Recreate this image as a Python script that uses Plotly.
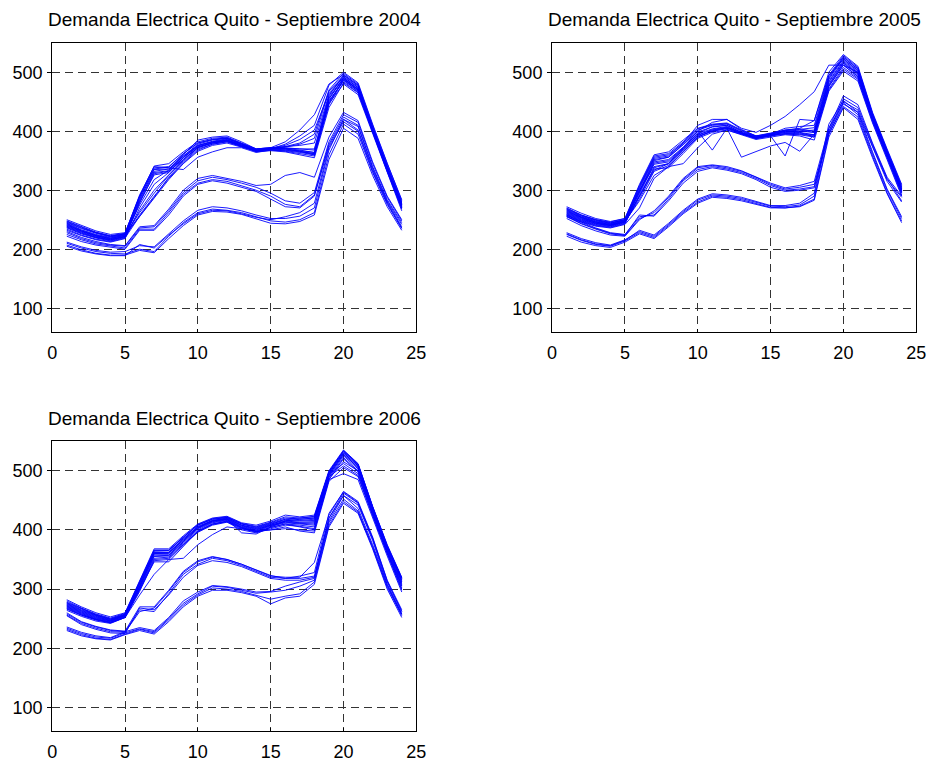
import plotly.graph_objects as go

hours = list(range(1, 25))

titles = ["Demanda Electrica Quito - Septiembre 2004",
          "Demanda Electrica Quito - Septiembre 2005",
          "Demanda Electrica Quito - Septiembre 2006"]

x_ticks = [0, 5, 10, 15, 20, 25]
y_ticks = [100, 200, 300, 400, 500]

# ---- Septiembre 2004 ----
wd_2004 = [
    [250,240,231,225,228,290,341,345,365,382,388,390,380,370,372,372,370,368,460,495,478,405,340,280],
    [246,236,228,222,226,288,338,340,362,380,386,388,378,368,370,370,366,362,455,490,472,402,338,276],
    [240,230,222,217,222,284,335,336,358,376,382,386,377,366,368,367,364,360,448,488,470,400,335,274],
    [236,226,219,214,220,278,328,332,352,372,380,384,375,365,367,365,360,355,440,482,465,398,332,270],
    [244,233,225,220,225,262,295,325,350,372,380,384,376,368,370,374,380,395,470,498,480,410,345,284],
    [238,228,220,216,222,258,290,320,346,368,378,382,374,366,370,378,392,410,478,500,482,412,346,282],
    [242,231,223,218,224,255,285,318,345,366,376,380,373,366,372,382,402,428,480,496,478,408,342,278],
    [234,224,217,213,219,256,288,322,348,370,378,382,374,367,371,376,386,402,465,492,474,405,338,275],
    [248,238,229,223,227,292,340,338,335,356,365,372,372,364,368,366,362,358,445,487,468,400,336,272],
    [245,235,227,221,225,286,332,336,360,385,390,392,382,370,372,371,368,364,452,484,466,398,332,268],
    [239,229,221,216,221,280,326,330,355,374,380,383,375,366,369,368,365,362,447,480,462,396,330,265],
    [232,223,216,212,218,270,310,330,355,375,382,385,376,367,370,371,370,370,458,490,470,402,335,270],
    [243,232,224,219,224,275,318,334,358,378,385,388,379,370,372,374,376,380,462,492,474,404,338,275],
    [237,227,220,215,221,265,300,326,352,373,381,385,377,368,371,373,378,388,468,494,476,406,340,278],
    [241,231,223,218,223,282,330,333,356,376,383,387,378,368,370,369,367,364,450,486,468,400,334,270],
    [247,237,228,222,226,290,336,339,362,380,386,389,379,369,371,370,366,360,455,489,471,402,336,273],
]
sat_2004 = [
    [228,218,211,207,205,236,238,265,296,316,322,318,312,305,295,282,278,296,382,428,415,345,288,248],
    [225,216,209,205,202,234,234,262,293,312,318,315,308,300,290,276,272,292,378,424,410,340,284,245],
    [222,213,207,203,200,232,232,258,290,310,316,312,305,298,285,272,270,290,375,420,408,338,282,242],
    [230,220,213,208,206,238,240,268,300,320,325,320,315,308,310,325,330,322,390,432,418,348,290,250],
]
sun_2004 = [
    [210,202,196,193,192,200,196,222,245,262,268,266,262,255,248,246,250,262,360,412,395,330,276,235],
    [207,199,193,190,190,198,194,218,240,258,264,263,259,252,244,243,247,258,352,405,388,325,272,232],
    [212,204,198,195,196,206,204,226,248,266,272,270,265,258,252,252,256,270,368,420,402,335,280,238],
    [205,197,192,189,189,208,202,224,243,260,266,265,260,254,250,255,262,278,372,416,400,332,278,236],
]

# ---- Septiembre 2005 ----
wd_2005 = [
    [272,261,252,247,252,310,360,365,385,405,412,414,402,392,397,402,404,400,490,525,505,428,366,305],
    [268,257,249,244,250,306,356,360,380,402,410,412,400,390,395,400,400,398,485,520,500,425,364,302],
    [264,254,246,242,248,302,352,356,377,399,407,410,398,389,394,398,398,394,480,516,497,422,360,300],
    [260,250,243,240,246,298,348,352,373,396,404,408,397,388,393,396,395,392,476,512,493,420,358,297],
    [257,247,240,237,243,294,344,348,370,394,402,406,396,387,392,395,394,390,472,508,490,418,356,295],
    [266,255,247,243,249,290,338,345,368,392,400,405,396,389,395,405,408,410,495,528,508,430,368,308],
    [262,252,244,240,246,285,332,342,365,390,400,404,395,388,394,402,405,418,500,530,510,432,370,310],
    [255,246,239,236,242,270,320,340,345,372,395,402,395,388,392,400,398,390,470,505,488,416,355,292],
    [270,258,250,245,250,300,340,345,372,400,368,405,356,366,375,381,366,395,478,515,495,422,360,298],
    [265,254,246,242,248,300,350,356,378,400,415,420,405,398,410,425,445,467,512,512,500,425,362,300],
    [261,251,244,241,247,296,346,350,372,396,408,410,398,392,392,358,420,418,495,522,502,426,364,302],
    [259,249,242,239,245,290,336,338,362,388,398,402,394,386,390,394,392,385,468,502,485,414,352,290],
    [267,256,248,244,250,304,354,358,380,410,420,420,403,392,396,400,402,398,488,523,503,427,365,303],
    [263,253,245,241,247,282,325,340,366,390,401,406,397,390,394,398,400,402,483,518,498,424,362,300],
    [258,248,241,238,244,288,334,345,369,393,403,407,397,389,393,396,396,394,476,512,492,419,357,296],
    [269,258,250,246,252,308,358,362,382,404,411,413,401,391,396,401,403,406,492,526,506,429,367,306],
]
sat_2005 = [
    [258,246,236,228,225,255,258,285,316,335,340,336,330,320,308,300,302,306,400,455,440,378,320,282],
    [255,243,234,226,223,252,262,288,318,338,342,338,332,322,310,302,305,310,398,450,436,375,318,288],
    [252,240,231,224,222,250,265,290,320,340,343,340,333,323,312,304,308,315,405,460,445,380,322,290],
    [256,244,235,227,224,258,256,282,312,332,338,334,328,318,305,298,300,304,395,446,432,372,315,280],
]
sun_2005 = [
    [228,218,211,207,216,230,222,242,264,283,292,290,286,280,273,272,275,290,405,448,428,362,300,252],
    [225,215,208,205,214,228,220,240,262,280,290,288,284,278,271,270,273,285,395,442,424,358,296,248],
    [222,212,206,203,212,226,218,238,260,278,288,286,282,276,270,270,272,283,390,440,420,355,294,245],
    [226,216,209,206,215,232,224,244,266,285,294,292,288,281,274,274,278,295,412,452,432,365,302,255],
]

# ---- Septiembre 2006 ----
wd_2006 = [
    [282,270,260,253,260,315,368,368,390,410,420,423,412,408,415,425,422,425,500,535,512,440,375,320],
    [278,267,257,250,258,312,365,365,387,408,418,421,410,405,412,420,418,420,497,532,510,438,372,318],
    [275,264,255,248,256,308,362,362,384,406,416,419,408,403,410,416,415,416,495,530,508,436,370,315],
    [272,261,252,246,255,305,358,358,380,403,414,418,406,400,408,414,412,412,492,528,505,434,368,312],
    [270,259,250,245,254,302,355,356,378,400,412,416,404,398,406,412,410,408,490,525,503,432,366,310],
    [268,257,249,244,253,300,352,354,376,398,410,414,402,396,404,410,408,405,488,522,500,430,364,308],
    [266,256,248,243,252,298,350,352,375,396,408,413,400,395,402,408,406,402,485,520,498,428,362,305],
    [274,263,254,247,256,306,360,360,382,404,415,418,395,393,405,415,418,420,495,530,508,436,370,316],
    [264,254,246,242,252,290,325,350,352,375,392,405,402,398,400,405,398,395,482,505,490,425,360,300],
    [276,265,256,249,257,310,364,365,388,408,418,421,410,404,411,418,416,418,494,512,495,426,362,302],
    [271,260,251,246,255,303,356,357,380,402,413,417,405,399,407,413,411,410,490,508,492,424,360,298],
    [269,258,249,244,253,300,346,346,372,398,410,415,404,397,400,402,400,398,485,495,485,420,356,295],
    [273,262,253,247,256,304,362,362,385,405,416,420,408,402,409,418,420,422,498,534,511,439,373,318],
    [267,256,248,243,252,296,348,350,374,397,409,414,403,397,404,410,405,400,486,515,500,430,365,306],
    [277,266,256,249,257,309,360,361,383,404,415,419,407,401,408,415,413,414,493,527,506,435,369,313],
    [280,268,258,251,259,313,366,366,388,409,419,422,411,406,413,422,420,423,498,533,511,439,374,319],
]
sat_2006 = [
    [258,244,236,230,228,265,262,292,325,342,352,348,340,330,320,318,318,322,420,462,445,385,312,262],
    [256,242,234,228,227,262,268,296,328,346,354,350,342,332,322,320,320,345,425,465,448,388,315,265],
    [255,240,232,226,225,268,265,290,320,340,348,345,338,328,318,315,315,320,415,458,442,382,308,258],
    [260,245,237,231,229,270,270,298,330,348,355,350,342,333,323,318,322,328,428,464,446,386,314,262],
]
sun_2006 = [
    [234,225,219,217,226,233,228,250,276,292,305,303,298,293,295,298,305,315,412,452,432,372,305,257],
    [232,223,217,215,224,232,226,248,273,290,302,300,296,290,283,288,292,312,408,448,430,370,303,255],
    [230,221,216,214,223,230,224,245,270,288,298,298,294,288,275,285,288,308,405,445,428,368,300,252],
    [236,227,221,218,228,235,230,252,280,295,306,304,300,295,296,305,312,318,420,458,436,375,308,258],
]

panels = [wd_2004 + sat_2004 + sun_2004,
          wd_2005 + sat_2005 + sun_2005,
          wd_2006 + sat_2006 + sun_2006]

W, H = 939, 762
# axis pixel boxes (left, top, right, bottom)
boxes = [(48, 43, 418, 334), (556, 43, 926, 334), (48, 444, 418, 736)]

fig = go.Figure()
FONT = "Liberation Sans, Arial, sans-serif"

for i, (curves, box) in enumerate(zip(panels, boxes)):
    xa = "x" if i == 0 else f"x{i+1}"
    ya = "y" if i == 0 else f"y{i+1}"
    for c in curves:
        fig.add_trace(go.Scatter(x=hours, y=c, mode="lines",
                                 line=dict(color="rgb(0,0,255)", width=0.9),
                                 xaxis=xa, yaxis=ya, showlegend=False,
                                 hoverinfo="skip"))
    l, t, r, b = box
    axis_common = dict(showline=True, linecolor="black", linewidth=1.2, mirror=True,
                       tickcolor="black",
                       showgrid=True, gridcolor="#333333", gridwidth=1,
                       griddash="8px,5px", zeroline=False,
                       tickfont=dict(family=FONT, size=18, color="black"))
    fig.layout[("xaxis" if i == 0 else f"xaxis{i+1}")] = dict(
        domain=[l / W, r / W], anchor=ya, range=[0, 25], tickvals=x_ticks,
        ticks="inside", ticklen=3, ticklabelstandoff=4, **axis_common)
    fig.layout[("yaxis" if i == 0 else f"yaxis{i+1}")] = dict(
        domain=[1 - b / H, 1 - t / H], anchor=xa, range=[60, 550], tickvals=y_ticks,
        ticks="outside", ticklen=4, ticklabelstandoff=1, **axis_common)
    fig.add_annotation(text=titles[i], x=(l + r) / 2 / W, y=1 - (t - 23) / H,
                       xref="paper", yref="paper", showarrow=False,
                       xanchor="center", yanchor="middle",
                       font=dict(family=FONT, size=19, color="black"))

fig.update_layout(width=W, height=H, margin=dict(l=0, r=0, t=0, b=0),
                  plot_bgcolor="white", paper_bgcolor="white")

fig.write_html("out.html")
